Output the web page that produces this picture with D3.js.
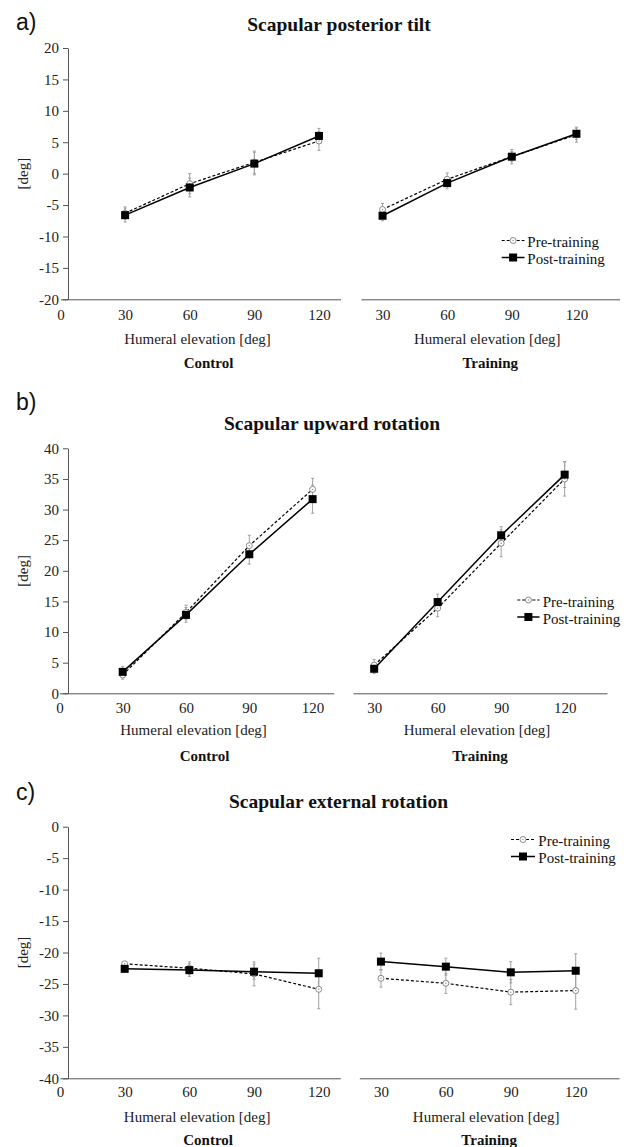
<!DOCTYPE html>
<html>
<head>
<meta charset="utf-8">
<script src="https://cdn.jsdelivr.net/npm/d3@7"></script>
<style>
  body { margin: 0; background: #fff; }
  svg { display: block; }
</style>
</head>
<body>
<div id="chart"></div>
<script>
// Humeral elevation angles (x)
const elevation = [30, 60, 90, 120];
const seriesNames = ["Pre-training", "Post-training"];
const groupNames = ["Control", "Training"];
const panelTitles = ["Scapular posterior tilt", "Scapular upward rotation", "Scapular external rotation"];
const panelLetters = ["a)", "b)", "c)"];

// y tick values per panel
const tiltTicks = [-20, -15, -10, -5, 0, 5, 10, 15, 20];
const upTicks = [0, 5, 10, 15, 20, 25, 30, 35, 40];
const extTicks = [-40, -35, -30, -25, -20, -15, -10, -5, 0];
const xTicksLeft = [0, 30, 60, 90, 120];
const xTicksRight = [30, 60, 90, 120];

// a) posterior tilt (mean, sd)
const tiltCtrlPre = [-6.3, -1.6, 1.8, 5.2];
const tiltCtrlPreSd = [1.0, 1.6, 1.8, 1.5];
const tiltCtrlPost = [-6.6, -2.2, 1.6, 6.0];
const tiltCtrlPostSd = [1.1, 1.5, 1.8, 1.2];
const tiltTrainPre = [-5.7, -0.9, 2.7, 6.2];
const tiltTrainPreSd = [0.95, 1.0, 1.15, 1.2];
const tiltTrainPost = [-6.7, -1.5, 2.7, 6.35];
const tiltTrainPostSd = [0.8, 0.9, 0.8, 0.9];

// b) upward rotation
const upCtrlPre = [3.0, 13.2, 24.1, 33.3];
const upCtrlPreSd = [0.7, 1.2, 1.7, 1.8];
const upCtrlPost = [3.5, 12.8, 22.7, 31.7];
const upCtrlPostSd = [0.9, 1.2, 1.6, 2.3];
const upTrainPre = [4.6, 13.9, 24.5, 35.0];
const upTrainPreSd = [0.9, 1.4, 2.2, 2.8];
const upTrainPost = [4.0, 14.9, 25.8, 35.7];
const upTrainPostSd = [0.8, 1.3, 1.4, 2.1];

// c) external rotation
const extCtrlPre = [-21.8, -22.5, -23.4, -25.85];
const extCtrlPreSd = [0.3, 1.0, 1.9, 3.1];
const extCtrlPost = [-22.6, -22.8, -23.05, -23.3];
const extCtrlPostSd = [0.4, 1.0, 1.2, 2.4];
const extTrainPre = [-24.1, -24.9, -26.3, -26.05];
const extTrainPreSd = [1.4, 1.6, 2.0, 2.95];
const extTrainPost = [-21.45, -22.25, -23.15, -22.9];
const extTrainPostSd = [1.35, 1.35, 1.7, 2.7];

const panels = [
  {
    ticks: tiltTicks, yDomain: [-20, 20], yRange: [299.3, 48],
    left: [60.5, 340.5], right: [361, 619.5],
    ctrl: [[tiltCtrlPre, tiltCtrlPreSd], [tiltCtrlPost, tiltCtrlPostSd]],
    train: [[tiltTrainPre, tiltTrainPreSd], [tiltTrainPost, tiltTrainPostSd]],
    letterY: 30, titleX: 339, titleY: 31,
    tickDy: 21, humDy: 45, grpDy: 69,
    legend: { x1: 501.7, x2: 524.5, tx: 527.3, y: 240.5 }
  },
  {
    ticks: upTicks, yDomain: [0, 40], yRange: [693.3, 448.3],
    left: [59.4, 333.7], right: [353, 607],
    ctrl: [[upCtrlPre, upCtrlPreSd], [upCtrlPost, upCtrlPostSd]],
    train: [[upTrainPre, upTrainPreSd], [upTrainPost, upTrainPostSd]],
    letterY: 410, titleX: 332, titleY: 430,
    tickDy: 20, humDy: 42, grpDy: 68,
    legend: { x1: 517.3, x2: 539.5, tx: 542.7, y: 600 }
  },
  {
    ticks: extTicks, yDomain: [-40, 0], yRange: [1078.3, 826.7],
    left: [60, 340.3], right: [359.3, 619],
    ctrl: [[extCtrlPre, extCtrlPreSd], [extCtrlPost, extCtrlPostSd]],
    train: [[extTrainPre, extTrainPreSd], [extTrainPost, extTrainPostSd]],
    letterY: 800, titleX: 338.5, titleY: 808,
    tickDy: 19, humDy: 44, grpDy: 66.5,
    legend: { x1: 511, x2: 535, tx: 538.3, y: 839.5 }
  }
];

const serif = "'Liberation Serif', 'Times New Roman', serif";
const sans = "'Liberation Sans', Arial, sans-serif";
const axisColor = "#555";
const errColor = "#a0a0a0";
const fmt = d => String(d); // plain hyphen minus, as in the original

const svg = d3.select("#chart").append("svg")
  .attr("width", 630)
  .attr("height", 1147);

function drawMarker(g, type, cx, cy) {
  if (type === 0) {
    g.append("circle").attr("cx", cx).attr("cy", cy).attr("r", 3)
      .attr("fill", "#fff").attr("stroke", "#8a8a8a").attr("stroke-width", 1);
    g.append("circle").attr("cx", cx).attr("cy", cy).attr("r", 0.7)
      .attr("fill", "#8a8a8a");
  } else {
    g.append("rect").attr("x", cx - 4).attr("y", cy - 4)
      .attr("width", 8).attr("height", 8).attr("fill", "#000");
  }
}

function styleLine(sel, type) {
  sel.attr("fill", "none").attr("stroke", "#000")
    .attr("stroke-width", type === 0 ? 1.2 : 1.5)
    .attr("stroke-dasharray", type === 0 ? "3,2" : null);
}

panels.forEach((p, pi) => {
  const y = d3.scaleLinear().domain(p.yDomain).range(p.yRange);
  const xL = d3.scaleLinear().domain([0, 130]).range(p.left);
  const xR = d3.scaleLinear().domain([20, 140]).range(p.right);
  const axisY = p.yRange[0];
  const g = svg.append("g");

  // letter and title
  g.append("text").attr("x", 16).attr("y", p.letterY)
    .style("font-family", sans).style("font-size", "23px").attr("fill", "#111")
    .text(panelLetters[pi]);
  g.append("text").attr("x", p.titleX).attr("y", p.titleY)
    .attr("text-anchor", "middle")
    .style("font-family", serif).style("font-size", "19.5px").style("font-weight", "bold")
    .attr("fill", "#111").text(panelTitles[pi]);

  // y axis
  const yAxis = g.append("g").attr("transform", "translate(68,0)")
    .call(d3.axisLeft(y).tickValues(p.ticks).tickFormat(fmt)
      .tickSize(5).tickSizeOuter(0).tickPadding(4));
  yAxis.selectAll("path, line").attr("stroke", axisColor);
  yAxis.selectAll("text").style("font-family", serif).style("font-size", "15px").attr("fill", "#222");

  g.append("text")
    .attr("transform", `translate(28,${(p.yRange[0] + p.yRange[1]) / 2}) rotate(-90)`)
    .attr("text-anchor", "middle")
    .style("font-family", serif).style("font-size", "15px").attr("fill", "#222")
    .text("[deg]");

  [[xL, xTicksLeft, p.ctrl, 0], [xR, xTicksRight, p.train, 1]].forEach(([x, tv, data, gi]) => {
    const xa = g.append("g").attr("transform", `translate(0,${axisY})`)
      .call(d3.axisBottom(x).tickValues(tv).tickFormat(fmt).tickSize(0).tickSizeOuter(0));
    xa.select(".domain").attr("stroke", axisColor);
    xa.selectAll("text").attr("y", p.tickDy).attr("dy", null)
      .style("font-family", serif).style("font-size", "15px").attr("fill", "#222");

    const mid = (x.range()[0] + x.range()[1]) / 2;
    g.append("text").attr("x", mid - 3).attr("y", axisY + p.humDy)
      .attr("text-anchor", "middle")
      .style("font-family", serif).style("font-size", "15px").attr("fill", "#222")
      .text("Humeral elevation [deg]");
    g.append("text").attr("x", gi === 0 ? mid + 8 : mid).attr("y", axisY + p.grpDy)
      .attr("text-anchor", "middle")
      .style("font-family", serif).style("font-size", "15px").style("font-weight", "bold")
      .attr("fill", "#111").text(groupNames[gi]);

    // error bars
    data.forEach(([mean, sd]) => {
      elevation.forEach((e, i) => {
        const cx = x(e);
        const y1 = y(mean[i] + sd[i]), y2 = y(mean[i] - sd[i]);
        g.append("line").attr("x1", cx).attr("x2", cx).attr("y1", y1).attr("y2", y2)
          .attr("stroke", errColor).attr("stroke-width", 1);
        [y1, y2].forEach(yy => g.append("line")
          .attr("x1", cx - 1.5).attr("x2", cx + 1.5).attr("y1", yy).attr("y2", yy)
          .attr("stroke", errColor).attr("stroke-width", 1));
      });
    });

    // lines and markers
    data.forEach(([mean], si) => {
      const line = d3.line().x((d, i) => x(elevation[i])).y(d => y(d));
      styleLine(g.append("path").attr("d", line(mean)), si);
      mean.forEach((v, i) => drawMarker(g, si, x(elevation[i]), y(v)));
    });
  });

  // legend
  const L = p.legend;
  seriesNames.forEach((name, si) => {
    const ly = L.y + si * 17;
    styleLine(g.append("line").attr("x1", L.x1).attr("x2", L.x2).attr("y1", ly).attr("y2", ly), si);
    drawMarker(g, si, (L.x1 + L.x2) / 2, ly);
    g.append("text").attr("x", L.tx).attr("y", ly + 6.5)
      .style("font-family", serif).style("font-size", "15px").attr("fill", "#111")
      .text(name);
  });
});
</script>
</body>
</html>
